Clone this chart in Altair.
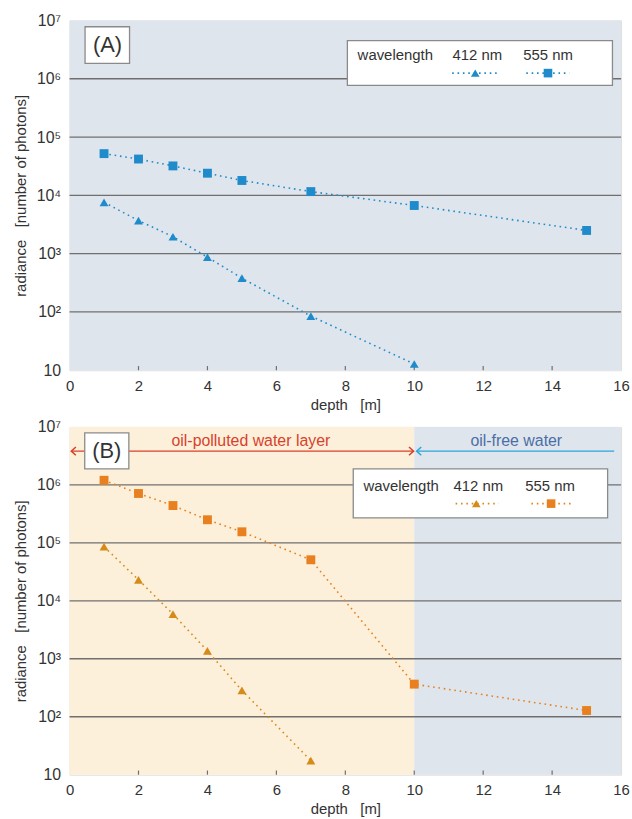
import altair as alt
import pandas as pd

FONT = "Liberation Sans"

# ---------------- data ----------------
depth_a555 = [1, 2, 3, 4, 5, 7, 10, 15]
rad_a555 = [5.2e4, 4.2e4, 3.2e4, 2.4e4, 1.8e4, 1.16e4, 6.7e3, 2.5e3]
depth_a412 = [1, 2, 3, 4, 5, 7, 10]
rad_a412 = [7.6e3, 3.7e3, 1.95e3, 870, 380, 85, 12.8]

depth_b555 = [1, 2, 3, 4, 5, 7, 10, 15]
rad_b555 = [1.2e6, 7.1e5, 4.4e5, 2.5e5, 1.55e5, 5.1e4, 365, 128]
depth_b412 = [1, 2, 3, 4, 5, 7]
rad_b412 = [8.6e4, 2.3e4, 5.9e3, 1.37e3, 285, 17.5]

x_ticks = [0, 2, 4, 6, 8, 10, 12, 14, 16]
y_ticks = [10, 100, 1e3, 1e4, 1e5, 1e6, 1e7]

# ---------------- styles ----------------
BLUE = "#1f8bcb"
ORANGE = "#e8801f"
GOLD = "#d68a1a"
BG_BLUE = "#dee5ed"
BG_ORANGE = "#fdf0da"
GRID = "#6f6f6f"
TXT = "#333333"

xs = alt.Scale(domain=[0, 16], nice=False, zero=False)
ys = alt.Scale(type="log", domain=[10, 1e7], nice=False)

xaxis = alt.Axis(values=x_ticks, title="depth\u00a0\u00a0\u00a0[m]", grid=False, domain=False,
                 ticks=False, tickSize=0, labelPadding=8, titlePadding=4,
                 labelFontSize=15, titleFontSize=15, labelFont=FONT, titleFont=FONT,
                 labelColor=TXT, titleColor=TXT, titleFontWeight="normal",
                 labelFlush=False)
yaxis = alt.Axis(values=y_ticks, title="radiance\u00a0\u00a0\u00a0[number of photons]", grid=False,
                 domain=False, ticks=False, tickSize=0, labelPadding=9, titlePadding=8,
                 labelFontSize=16, titleFontSize=15, labelFont=FONT, titleFont=FONT,
                 labelColor=TXT, titleColor=TXT, titleFontWeight="normal",
                 labelFlush=False,
                 labelExpr="datum.value < 11 ? '10' : '10' + ['', '', '\u00b2', '\u00b3', '\u2074', '\u2075', '\u2076', '\u2077'][round(log(datum.value)/LN10)]")


def X(f):
    return alt.X(f, type="quantitative", scale=xs, axis=xaxis)


def Y(f):
    return alt.Y(f, type="quantitative", scale=ys, axis=yaxis)


def series_df(depths, rads, name, color, shape):
    return pd.DataFrame({"depth": depths, "radiance": rads, "series": name,
                         "color": color, "shape": shape})


def panel(series, bg, legend, labelbox, extra=None, height=350):
    layers = []
    # background
    layers.append(alt.Chart(pd.DataFrame(bg)).mark_rect().encode(
        x=X("x"), x2="x2", y=Y("y"), y2="y2", color=alt.Color("c:N", scale=None)))
    # grid lines
    layers.append(alt.Chart(pd.DataFrame({"g": y_ticks[1:-1]})).mark_rule(
        color=GRID, strokeWidth=1.3).encode(y=Y("g")))
    # x ticks (inward)
    layers.append(alt.Chart(pd.DataFrame({"t": x_ticks[1:-1], "y0": 10, "y1": 11.8})).mark_rule(
        color=GRID, strokeWidth=1.2).encode(x=X("t"), y=Y("y0"), y2="y1"))
    if extra is not None:
        layers.extend(extra)
    df = pd.concat(series, ignore_index=True)
    layers.append(alt.Chart(df).mark_line(strokeDash=[1.6, 3.8], strokeWidth=1.6).encode(
        x=X("depth"), y=Y("radiance"), color=alt.Color("color:N", scale=None), detail="series:N"))
    layers.append(alt.Chart(df).mark_point(filled=True, opacity=1, size=80).encode(
        x=X("depth"), y=Y("radiance"), color=alt.Color("color:N", scale=None),
        shape=alt.Shape("shape:N", scale=None)))
    # legend box
    lb = legend
    layers.append(alt.Chart(pd.DataFrame([lb["box"]])).mark_rect(
        fill="white", stroke="#8a8a8a", strokeWidth=1.3).encode(x=X("x"), x2="x2", y=Y("y"), y2="y2"))
    layers.append(alt.Chart(pd.DataFrame(lb["texts"])).mark_text(
        font=FONT, fontSize=15, color=TXT, align="center", baseline="middle").encode(
        x=X("x"), y=Y("y"), text="t:N"))
    layers.append(alt.Chart(pd.DataFrame(lb["lines"])).mark_rule(
        strokeDash=[1.6, 3.8], strokeWidth=1.6).encode(
        x=X("x"), x2="x2", y=Y("y"), color=alt.Color("c:N", scale=None)))
    layers.append(alt.Chart(pd.DataFrame(lb["syms"])).mark_point(
        filled=True, opacity=1, size=75).encode(
        x=X("x"), y=Y("y"), color=alt.Color("c:N", scale=None),
        shape=alt.Shape("s:N", scale=None)))
    # panel label box
    layers.append(alt.Chart(pd.DataFrame([labelbox["box"]])).mark_rect(
        fill="white", stroke="#8a8a8a", strokeWidth=1.3).encode(x=X("x"), x2="x2", y=Y("y"), y2="y2"))
    layers.append(alt.Chart(pd.DataFrame([labelbox["text"]])).mark_text(
        font=FONT, fontSize=22, color=TXT, align="center", baseline="middle").encode(
        x=X("x"), y=Y("y"), text="t:N"))
    return alt.layer(*layers).properties(width=555, height=height)


# ---------------- panel A ----------------
series_a = [series_df(depth_a412, rad_a412, "412", BLUE, "triangle-up"),
            series_df(depth_a555, rad_a555, "555", BLUE, "square")]
bg_a = [{"x": 0, "x2": 16, "y": 10, "y2": 1e7, "c": BG_BLUE}]
legend_a = {
    "box": {"x": 8.06, "x2": 15.75, "y": 4.5e6, "y2": 7.7e5},
    "texts": [{"x": 9.45, "y": 2.55e6, "t": "wavelength"},
              {"x": 11.83, "y": 2.55e6, "t": "412 nm"},
              {"x": 13.88, "y": 2.55e6, "t": "555 nm"}],
    "lines": [{"x": 11.1, "x2": 12.4, "y": 1.25e6, "c": BLUE},
              {"x": 13.25, "x2": 14.5, "y": 1.25e6, "c": BLUE}],
    "syms": [{"x": 11.77, "y": 1.25e6, "c": BLUE, "s": "triangle-up"},
             {"x": 13.88, "y": 1.25e6, "c": BLUE, "s": "square"}],
}
label_a = {"box": {"x": 0.45, "x2": 1.74, "y": 7.8e6, "y2": 1.83e6},
           "text": {"x": 1.1, "y": 3.78e6, "t": "(A)"}}
chart_a = panel(series_a, bg_a, legend_a, label_a, height=352)

# ---------------- panel B ----------------
RED = "#d8402c"
SKY = "#2aa6dc"
series_b = [series_df(depth_b412, rad_b412, "412", GOLD, "triangle-up"),
            series_df(depth_b555, rad_b555, "555", ORANGE, "square")]
bg_b = [{"x": 0, "x2": 10, "y": 10, "y2": 1e7, "c": BG_ORANGE},
        {"x": 10, "x2": 16, "y": 10, "y2": 1e7, "c": BG_BLUE}]
legend_b = {
    "box": {"x": 8.23, "x2": 15.61, "y": 1.88e6, "y2": 2.7e5},
    "texts": [{"x": 9.62, "y": 9.6e5, "t": "wavelength"},
              {"x": 11.86, "y": 9.6e5, "t": "412 nm"},
              {"x": 13.94, "y": 9.6e5, "t": "555 nm"}],
    "lines": [{"x": 11.2, "x2": 12.45, "y": 4.75e5, "c": GOLD},
              {"x": 13.4, "x2": 14.6, "y": 4.75e5, "c": ORANGE}],
    "syms": [{"x": 11.8, "y": 4.75e5, "c": GOLD, "s": "triangle-up"},
             {"x": 13.97, "y": 4.75e5, "c": ORANGE, "s": "square"}],
}
label_b = {"box": {"x": 0.44, "x2": 1.72, "y": 7.9e6, "y2": 1.88e6},
           "text": {"x": 1.08, "y": 3.82e6, "t": "(B)"}}

arrow_y = 3.82e6
arrows = pd.DataFrame([{"x": 0.05, "x2": 9.98, "y": arrow_y, "c": RED},
                       {"x": 10.07, "x2": 15.8, "y": arrow_y, "c": SKY}])
heads = pd.DataFrame([
    {"x": 0.05, "y": arrow_y, "c": RED, "s": "M1.1,-1L0,0L1.1,1"},
    {"x": 9.98, "y": arrow_y, "c": RED, "s": "M-1.1,-1L0,0L-1.1,1"},
    {"x": 10.07, "y": arrow_y, "c": SKY, "s": "M1.1,-1L0,0L1.1,1"},
])
zone_text = pd.DataFrame([
    {"x": 5.26, "y": 5.6e6, "t": "oil-polluted water layer", "c": RED},
    {"x": 12.96, "y": 5.6e6, "t": "oil-free water", "c": "#4b6ea6"},
])
extra_b = [
    alt.Chart(arrows).mark_rule(strokeWidth=1.4).encode(
        x=X("x"), x2="x2", y=Y("y"), color=alt.Color("c:N", scale=None)),
    alt.Chart(heads).mark_point(filled=False, strokeWidth=1.5, size=70, opacity=1).encode(
        x=X("x"), y=Y("y"), color=alt.Color("c:N", scale=None), shape=alt.Shape("s:N", scale=None)),
    alt.Chart(zone_text).mark_text(font=FONT, fontSize=16, baseline="middle", align="center").encode(
        x=X("x"), y=Y("y"), text="t:N", color=alt.Color("c:N", scale=None)),
]
chart_b = panel(series_b, bg_b, legend_b, label_b, extra=extra_b, height=350)

chart = alt.vconcat(chart_a, chart_b, spacing=5).properties(
    padding={"left": 12, "top": 9, "right": 2, "bottom": 2}
).configure_view(stroke="#7a7a7a", strokeWidth=1.5).configure(background="white")

chart.save("out.html", embed_options={"renderer": "svg", "actions": False})
